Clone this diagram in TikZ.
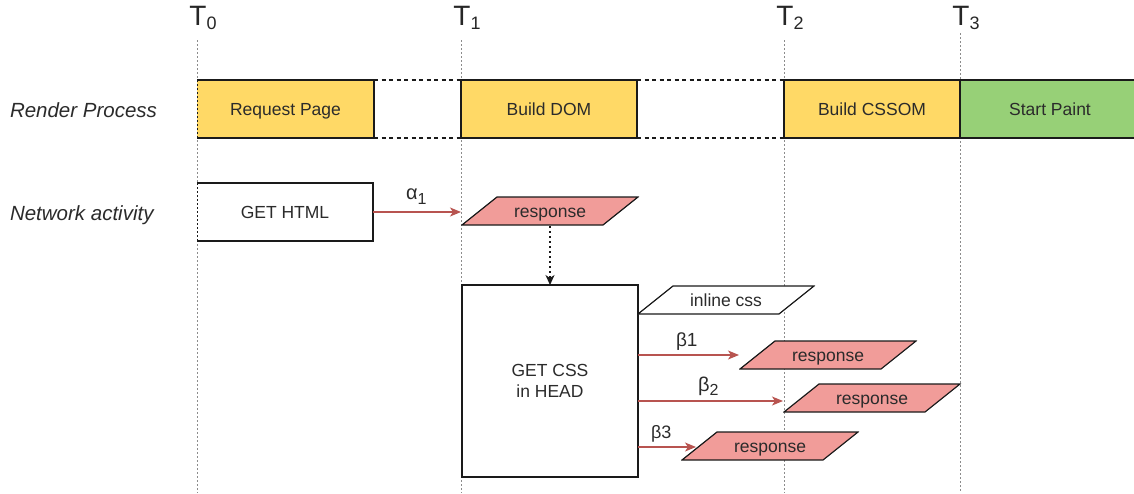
\documentclass[tikz,border=0pt]{standalone}
\usepackage{fontspec}
\setmainfont{Liberation Sans}
\usetikzlibrary{arrows.meta}

\definecolor{ylw}{HTML}{FFD966}
\definecolor{grn}{HTML}{97D077}
\definecolor{pink}{HTML}{F19C99}
\definecolor{redln}{HTML}{B85450}
\definecolor{ink}{HTML}{2B2B2B}
\definecolor{edge}{HTML}{1A1A1A}
\definecolor{guidec}{HTML}{8C8C8C}

% lowered index used by the time marks and the Greek labels
\newcommand\lowidx[3]{\raisebox{-#1}{\fontsize{#2}{#2}\selectfont #3}}

\tikzset{
  every node/.style={inner sep=0pt, outer sep=0pt, text=ink,
    font=\fontsize{17.5}{21}\selectfont},
  boxtext/.style={text height=12.5pt, text depth=0pt},
  stage/.style={boxtext, draw=edge, line width=1.2pt, minimum height=58pt},
  guide/.style={guidec, line width=1pt, dash pattern=on 1.5pt off 2.5pt},
  gapline/.style={edge, line width=1.2pt, dash pattern=on 4pt off 3.5pt},
  para/.style={boxtext, minimum width=178pt, minimum height=30pt,
    path picture={
      \draw[edge, line width=1.2pt, fill=#1]
        ([shift={(1pt,1pt)}]path picture bounding box.south west) --
        ([shift={(36pt,-1pt)}]path picture bounding box.north west) --
        ([shift={(-1pt,-1pt)}]path picture bounding box.north east) --
        ([shift={(-36pt,1pt)}]path picture bounding box.south east) -- cycle;}},
  msg/.style={redln, line width=1.2pt, -{Stealth[length=11pt,width=9pt,inset=3pt]}},
  tmark/.style={anchor=base west, text=black!85, font=\fontsize{28}{30}\selectfont},
  rowlabel/.style={anchor=base west, font=\fontsize{20.5}{24}\selectfont\itshape},
  greek/.style={anchor=base west, font=\fontsize{20}{24}\selectfont},
}

\begin{document}
\begin{tikzpicture}[x=1pt,y=-1pt]
\useasboundingbox (0,0) rectangle (1134,493);
\clip (0,0) rectangle (1134,493);

% time guides
\coordinate (g0t) at (197,40);  \coordinate (g0b) at (197,493);
\coordinate (g1t) at (461,40);  \coordinate (g1b) at (461,493);
\coordinate (g2t) at (784,40);  \coordinate (g2b) at (784,493);
\coordinate (g3t) at (960,33);  \coordinate (g3b) at (960,493);
\foreach \g in {0,1,2,3} \draw[guide] (g\g t) -- (g\g b);

% time marks
\node[tmark] (t0) at (189.4,25) {T\lowidx{4.5pt}{18}{0}};
\node[tmark] (t1) at (453.4,25) {T\lowidx{4.5pt}{18}{1}};
\node[tmark] (t2) at (776.4,25) {T\lowidx{4.5pt}{18}{2}};
\node[tmark] (t3) at (952.4,25) {T\lowidx{4.5pt}{18}{3}};

% row captions
\node[rowlabel] (lrender) at (10,117.5) {Render Process};
\node[rowlabel] (lnet) at (10,220) {Network activity};

% render process stages
\node[stage, draw=none, fill=ylw, minimum width=177pt] (rp) at (285.5,109) {Request Page};
\draw[edge, line width=1.2pt] (rp.north west) -- (rp.north east) -- (rp.south east) -- (rp.south west);
\node[stage, fill=ylw, minimum width=176pt] (dom) at (549,109) {Build DOM};
\node[stage, fill=ylw, minimum width=176pt] (cssom) at (872,109) {Build CSSOM};
\node[stage, fill=grn, minimum width=180pt] (paint) at (1050,109) {Start Paint};
\draw[gapline] (rp.north east) -- (dom.north west);
\draw[gapline] (rp.south east) -- (dom.south west);
\draw[gapline] (dom.north east) -- (cssom.north west);
\draw[gapline] (dom.south east) -- (cssom.south west);

% network activity
\node[stage, draw=none, fill=white, minimum width=176pt] (html) at (285,212) {GET HTML};
\draw[edge, line width=1.2pt] (html.north west) -- (html.north east) -- (html.south east) -- (html.south west);
\draw[guide, draw=edge] (rp.north west) -- (rp.south west);
\draw[guide, draw=edge] (html.north west) -- (html.south west);

\node[para=pink] (resp0) at (550,211) {response};
\draw[msg] (html.east) -- (html.east -| resp0.west);
\node[greek] (alpha) at (406,199) {α\lowidx{5pt}{16}{1}};

\node[draw=edge, line width=1.2pt, fill=white, minimum width=176pt,
      minimum height=192pt, align=center] (css) at (550,381) {GET CSS\\in HEAD};
\draw[edge, line width=1.2pt, dash pattern=on 2pt off 3pt,
      -{Stealth[length=10pt,width=9pt,inset=3pt]}] (resp0.south) -- (css.north);

\node[para=white] (inl) at (726,300) {inline css};

\node[para=pink] (resp1) at (828,355) {response};
\node[para=pink] (resp2) at (872,398) {response};
\node[para=pink] (resp3) at (770,446) {response};

% arrow ends at the request shapes
\coordinate (b2) at ([yshift=-3pt]resp2.west);
\coordinate (b3) at ([xshift=15pt,yshift=-1pt]resp3.west);
\draw[msg] (css.east |- resp1.west) -- (resp1.west);
\draw[msg] (css.east |- b2) -- (b2);
\draw[msg] (css.east |- b3) -- (b3);

\node[greek, font=\fontsize{19}{22}\selectfont] (beta1) at (676,346) {β1};
\node[greek] (beta2) at (698,391) {β\lowidx{4pt}{16}{2}};
\node[greek, font=\fontsize{18}{22}\selectfont] (beta3) at (651,438) {β3};
\end{tikzpicture}
\end{document}
